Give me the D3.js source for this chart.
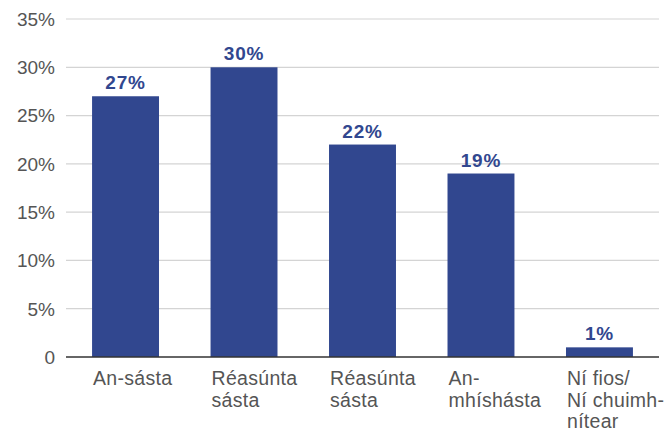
<!DOCTYPE html>
<html>
<head>
<meta charset="utf-8">
<script src="https://cdn.jsdelivr.net/npm/d3@7"></script>
<style>
  body { margin: 0; background: #fff; }
  text { font-family: "Liberation Sans", Arial, Helvetica, sans-serif; }
</style>
</head>
<body>
<svg id="chart" width="671" height="432"></svg>
<script>
const categories = [
  ['An-sásta'],
  ['Réasúnta', 'sásta'],
  ['Réasúnta', 'sásta'],
  ['An-', 'mhíshásta'],
  ['Ní fios/', 'Ní chuimh-', 'nítear']
];
const values = [27, 30, 22, 19, 1];
const yTicks = [0, 5, 10, 15, 20, 25, 30, 35];

const width = 671, height = 432;
const margin = {top: 19, right: 12, bottom: 75, left: 66};
const barColor = '#31478f';

const svg = d3.select('#chart');

const x = d3.scaleBand()
  .domain(d3.range(values.length))
  .range([margin.left, width - margin.right])
  .paddingInner(0.435)
  .paddingOuter(0.22);

const y = d3.scaleLinear()
  .domain([0, 35])
  .range([height - margin.bottom, margin.top]);

// gridlines
svg.append('g')
  .selectAll('line')
  .data(yTicks.filter(d => d > 0))
  .enter().append('line')
  .attr('x1', margin.left)
  .attr('x2', width - margin.right)
  .attr('y1', d => y(d))
  .attr('y2', d => y(d))
  .attr('stroke', '#d4d4d4')
  .attr('stroke-width', 1.2);

// y labels
svg.append('g')
  .selectAll('text')
  .data(yTicks)
  .enter().append('text')
  .attr('x', 55)
  .attr('y', d => y(d))
  .attr('dy', '0.36em')
  .attr('text-anchor', 'end')
  .attr('font-size', 19)
  .attr('fill', '#555')
  .text(d => d === 0 ? '0' : d + '%');

// bars
svg.append('g')
  .selectAll('rect')
  .data(values)
  .enter().append('rect')
  .attr('x', (d, i) => x(i))
  .attr('width', x.bandwidth())
  .attr('y', d => y(d))
  .attr('height', d => y(0) - y(d))
  .attr('fill', barColor);

// value labels
svg.append('g')
  .selectAll('text')
  .data(values)
  .enter().append('text')
  .attr('x', (d, i) => x(i) + x.bandwidth() / 2)
  .attr('y', d => y(d) - 7)
  .attr('text-anchor', 'middle')
  .attr('font-size', 19)
  .attr('font-weight', 'bold')
  .attr('letter-spacing', 0.8)
  .attr('fill', barColor)
  .text(d => d + '%');

// baseline
svg.append('line')
  .attr('x1', margin.left)
  .attr('x2', width - margin.right)
  .attr('y1', y(0))
  .attr('y2', y(0))
  .attr('stroke', '#333')
  .attr('stroke-width', 1.5);

// category labels
const cat = svg.append('g')
  .selectAll('text')
  .data(categories)
  .enter().append('text')
  .attr('x', (d, i) => x(i) + 1)
  .attr('y', 385)
  .attr('font-size', 19.5)
  .attr('letter-spacing', 0.3)
  .attr('fill', '#555');

cat.selectAll('tspan')
  .data(d => d)
  .enter().append('tspan')
  .attr('x', function() { return this.parentNode.getAttribute('x'); })
  .attr('dy', (d, i) => i === 0 ? 0 : 21.5)
  .text(d => d);
</script>
</body>
</html>
